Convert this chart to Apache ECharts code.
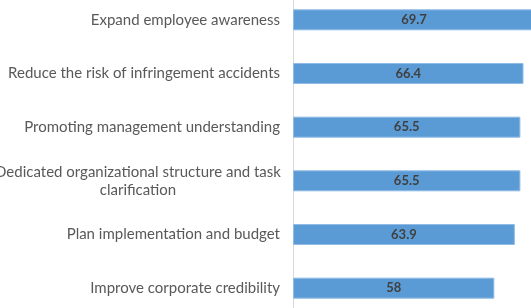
<!DOCTYPE html>
<html>
<head>
<meta charset="utf-8">
<script src="https://cdn.jsdelivr.net/npm/echarts@6/dist/echarts.min.js"></script>
<style>
  html, body { margin: 0; padding: 0; background: #fff; }
  #chart { width: 531px; height: 308px; }
</style>
</head>
<body>
<div id="chart"></div>
<script>
// categories top to bottom
const categories = [
  'Expand employee awareness',
  'Reduce the risk of infringement accidents',
  'Promoting management understanding',
  'Dedicated organizational structure and task\nclarification',
  'Plan implementation and budget',
  'Improve corporate credibility'
]
const values = [69.7, 66.4, 65.5, 65.5, 63.9, 58]

const chart = echarts.init(document.getElementById('chart'))
chart.setOption({
  animation: false,
  grid: {
    left: 293,
    right: -5,
    top: -7,
    bottom: -7,
    outerBoundsMode: 'none'
  },
  xAxis: {
    type: 'value',
    min: 0,
    max: 70,
    show: false
  },
  yAxis: {
    type: 'category',
    inverse: true,
    data: categories,
    axisLine: { show: true, lineStyle: { color: '#d9d9d9', width: 1 } },
    axisTick: { show: false },
    axisLabel: {
      margin: 13,
      color: '#595959',
      fontFamily: 'Lato',
      fontSize: 15,
      lineHeight: 18,
      formatter: function(val) {
        if (val.indexOf('\n') > -1) {
          const parts = val.split('\n')
          return '{c|' + parts[0] + '}\n{c|' + parts[1] + '}'
        }
        return val
      },
      rich: {
        c: {
          width: 284,
          align: 'center',
          color: '#595959',
          fontFamily: 'Lato',
          fontSize: 15,
          lineHeight: 18
        }
      }
    }
  },
  series: [{
    type: 'bar',
    data: values,
    barWidth: 21,
    itemStyle: {
      color: '#5b9bd5',
      borderColor: '#8fbbe6',
      borderWidth: 1
    },
    label: {
      show: true,
      position: 'inside',
      color: '#404040',
      fontFamily: 'Lato',
      fontWeight: 'bold',
      fontSize: 13
    }
  }]
})
</script>
</body>
</html>
